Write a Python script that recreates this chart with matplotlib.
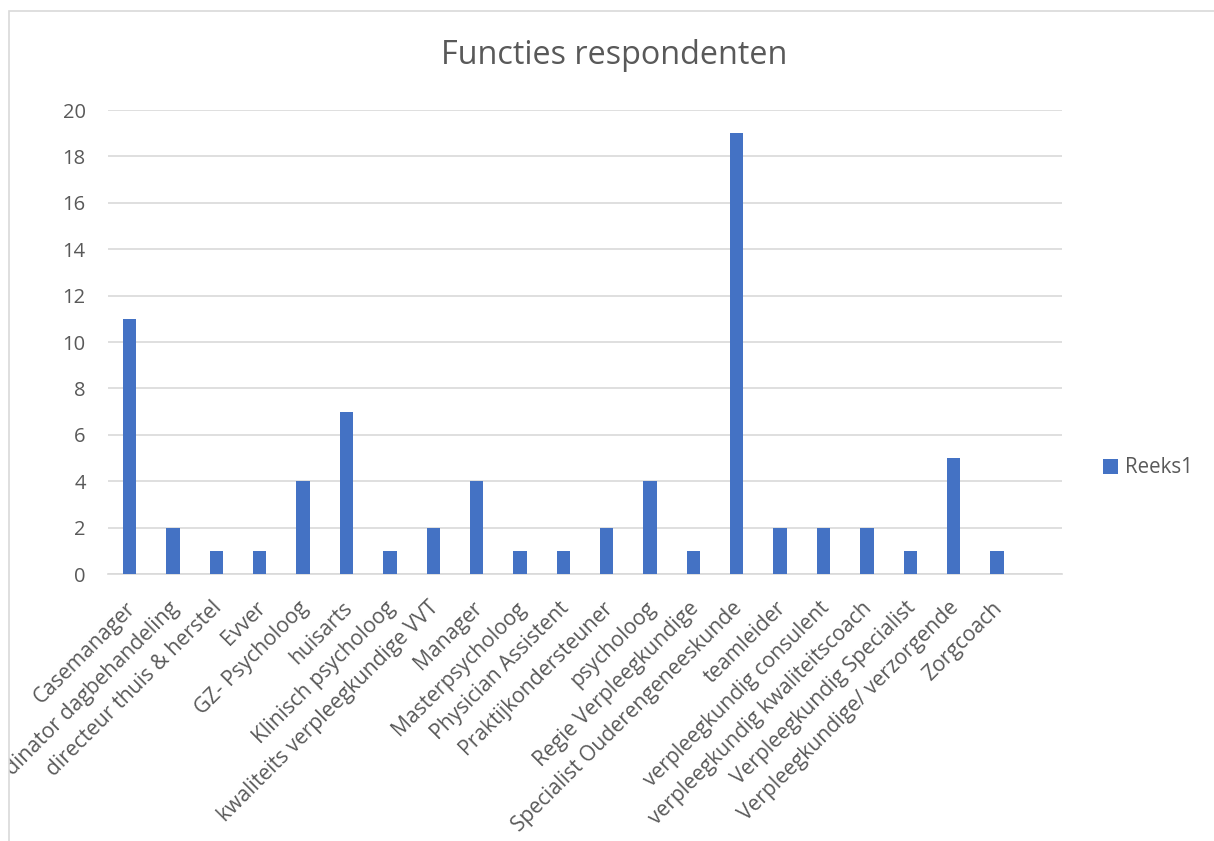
import matplotlib.pyplot as plt
from matplotlib.patches import Rectangle
from matplotlib.transforms import ScaledTranslation

plt.rcParams['font.family'] = ['Open Sans', 'DejaVu Sans']

# functies en aantallen respondenten (laatste lege categorie zoals in Excel)
functies = ['Casemanager', 'Coordinator dagbehandeling', 'directeur thuis & herstel', 'Evver',
            'GZ- Psycholoog', 'huisarts', 'Klinisch psycholoog', 'kwaliteits verpleegkundige VVT',
            'Manager', 'Masterpsycholoog', 'Physician Assistent', 'Praktijkondersteuner',
            'psycholoog', 'Regie Verpleegkundige', 'Specialist Ouderengeneeskunde', 'teamleider',
            'verpleegkundig consulent', 'verpleegkundig kwaliteitscoach', 'Verpleegkundig Specialist',
            'Verpleegkundige/ verzorgende', 'Zorgcoach', '']
aantallen = [11, 2, 1, 1, 4, 7, 1, 2, 4, 1, 1, 2, 4, 1, 19, 2, 2, 2, 1, 5, 1, 0]
reeks = 'Reeks1'

grijs = '#595959'
blauw = '#4472C4'

W, H = 1214, 841
fig = plt.figure(figsize=(W / 100, H / 100), dpi=100)
# rand van de grafiek
kader = Rectangle((9 / W, -0.05), 1, 1.05 - 11 / H, transform=fig.transFigure,
                  fill=False, edgecolor='#d9d9d9', linewidth=1.2)
fig.patches.append(kader)

ax = fig.add_axes([108 / W, 1 - 574 / H, (1062 - 108) / W, (574 - 110) / H])
x = range(len(functies))
ax.bar(x, aantallen, width=0.31, color=blauw, label=reeks, zorder=3)
ax.set_xlim(-0.5, len(functies) - 0.5)
ax.set_ylim(0, 20)
ax.set_yticks(range(0, 21, 2))
ax.yaxis.grid(True, color='#d9d9d9', linewidth=1.2, zorder=0)
for s in ['top', 'right', 'left']:
    ax.spines[s].set_visible(False)
ax.spines['bottom'].set_color('#d9d9d9')
ax.spines['bottom'].set_linewidth(1.2)
ax.tick_params(axis='both', length=0, labelcolor=grijs)
ax.tick_params(axis='y', pad=16, labelsize=14.5)
ax.set_xticks(list(x))
ax.set_xticklabels(functies, rotation=45, ha='right', va='top', rotation_mode='anchor')
ax.tick_params(axis='x', pad=17, labelsize=15.2)
# labels iets naar links en net als in de bron afgesneden bij de rand
verschuif = ScaledTranslation(-5 / 100, 0, fig.dpi_scale_trans)
for t in ax.get_xticklabels():
    t.set_transform(t.get_transform() + verschuif)
    t.set_clip_path(kader)

fig.text(614 / W, 1 - 55 / H, 'Functies respondenten', ha='center', va='center',
         fontsize=23.3, color=grijs)

leg = ax.legend(loc='center left', bbox_to_anchor=(1.034, 0.229), frameon=False,
                fontsize=14.8, handlelength=0.75, handleheight=0.75, handletextpad=0.35,
                borderaxespad=0)
for t in leg.get_texts():
    t.set_color(grijs)

plt.savefig('out.png')
